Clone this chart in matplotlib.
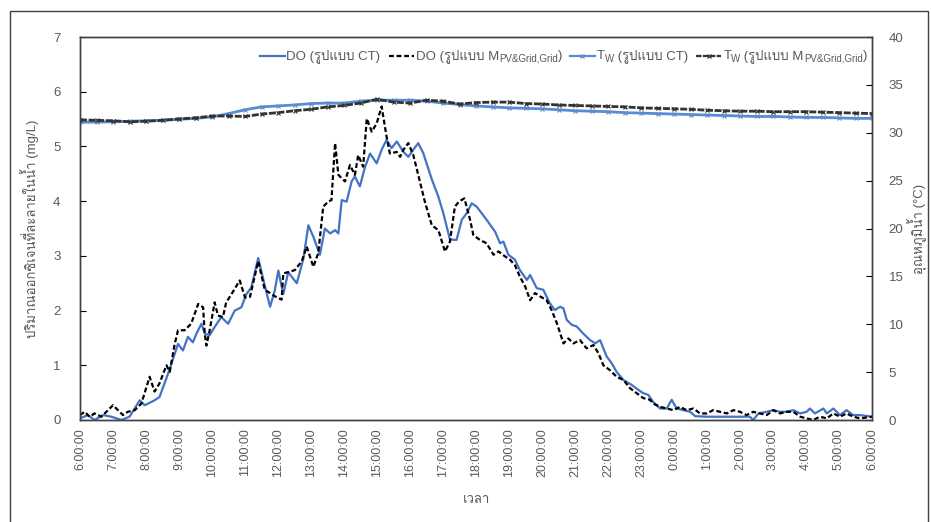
import matplotlib
matplotlib.use("Agg")
import matplotlib.pyplot as plt
from matplotlib import font_manager
from matplotlib.ft2font import FT2Font
from matplotlib.patches import Rectangle
from matplotlib.lines import Line2D

# hours after 6:00 (0 = 6:00, 24 = 6:00 next day)
do_ct_t = [0.0, 0.24, 0.44, 0.70, 0.95, 1.25, 1.5, 1.81, 1.96, 2.26, 2.41, 2.67, 2.87, 2.97,
           3.12, 3.27, 3.42, 3.53, 3.68, 3.78, 3.93, 4.08, 4.28, 4.49, 4.69, 4.89, 5.04, 5.19,
           5.40, 5.61, 5.76, 5.9, 6.01, 6.16, 6.31, 6.57, 6.77, 6.92, 7.07, 7.27, 7.42, 7.58,
           7.73, 7.83, 7.93, 8.08, 8.23, 8.33, 8.48, 8.64, 8.79, 8.99, 9.14, 9.29, 9.44, 9.60,
           9.80, 9.95, 10.10, 10.25, 10.40, 10.66, 10.86, 11.01, 11.21, 11.41, 11.57, 11.72,
           11.87, 12.02, 12.17, 12.32, 12.58, 12.73, 12.83, 12.98, 13.18, 13.33, 13.54, 13.64,
           13.84, 14.04, 14.24, 14.39, 14.55, 14.65, 14.75, 14.9, 15.05, 15.25, 15.46, 15.61,
           15.76, 15.96, 16.11, 16.26, 16.47, 16.72, 16.92, 17.07, 17.22, 17.37, 17.58, 17.78,
           17.93, 18.08, 18.28, 18.49, 18.64, 18.99, 19.5, 20.0, 20.3, 20.4, 20.56, 20.81,
           21.01, 21.21, 21.41, 21.62, 21.82, 22.02, 22.12, 22.27, 22.53, 22.63, 22.83, 23.03,
           23.23, 23.43, 23.64, 24.0]
do_ct_v = [0.03, 0.09, 0.0, 0.09, 0.06, 0.0, 0.06, 0.36, 0.27, 0.36, 0.42, 0.85, 1.21, 1.39,
           1.27, 1.52, 1.42, 1.58, 1.76, 1.58, 1.55, 1.70, 1.88, 1.76, 2.0, 2.06, 2.3, 2.42,
           2.96, 2.43, 2.07, 2.36, 2.73, 2.3, 2.7, 2.5, 2.95, 3.56, 3.35, 3.02, 3.5, 3.41,
           3.47, 3.41, 4.02, 3.99, 4.36, 4.45, 4.27, 4.63, 4.87, 4.69, 4.94, 5.12, 4.97, 5.09,
           4.9, 4.81, 4.94, 5.06, 4.88, 4.4, 4.08, 3.78, 3.3, 3.29, 3.66, 3.78,
           3.96, 3.9, 3.78, 3.66, 3.44, 3.23, 3.26, 3.02, 2.93, 2.74, 2.56, 2.65,
           2.41, 2.38, 2.13, 2.01, 2.07, 2.04, 1.83, 1.74, 1.71, 1.58, 1.46, 1.40,
           1.46, 1.16, 1.04, 0.88, 0.73, 0.64, 0.55, 0.49, 0.46, 0.33, 0.21, 0.21,
           0.37, 0.21, 0.18, 0.15, 0.07, 0.06, 0.06, 0.06, 0.06, 0.0, 0.12, 0.15,
           0.18, 0.15, 0.15, 0.18, 0.12, 0.15, 0.21, 0.12, 0.21, 0.12, 0.21, 0.09,
           0.18, 0.09, 0.09, 0.06]

do_m_t = [0.0, 0.14, 0.29, 0.44, 0.65, 0.85, 1.0, 1.15, 1.3, 1.45, 1.66, 1.86, 2.11, 2.26,
          2.41, 2.62, 2.72, 2.87, 2.97, 3.17, 3.37, 3.58, 3.73, 3.78, 3.83, 3.93, 4.08, 4.18,
          4.33, 4.43, 4.59, 4.84, 5.0, 5.15, 5.40, 5.6, 5.76, 5.91, 6.11, 6.16, 6.36, 6.51,
          6.72, 6.87, 7.07, 7.22, 7.37, 7.52, 7.62, 7.73, 7.83, 8.03, 8.18, 8.33, 8.43, 8.58,
          8.69, 8.84, 8.99, 9.14, 9.29, 9.39, 9.6, 9.7, 9.8, 9.95, 10.1, 10.25, 10.45, 10.66,
          10.86, 11.06, 11.21, 11.36, 11.5, 11.65, 11.82, 11.92, 12.12, 12.32, 12.53, 12.68,
          12.88, 13.03, 13.18, 13.33, 13.49, 13.64, 13.79, 13.94, 14.14, 14.29, 14.45, 14.65,
          14.8, 14.95, 15.15, 15.35, 15.56, 15.71, 15.86, 16.06, 16.26, 16.47, 16.67, 16.87,
          17.07, 17.27, 17.37, 17.58, 17.78, 17.98, 18.18, 18.38, 18.59, 18.79, 18.99, 19.19,
          19.39, 19.6, 19.8, 20.0, 20.2, 20.4, 20.6, 20.81, 21.01, 21.21, 21.41, 21.62,
          21.82, 22.02, 22.22, 22.42, 22.63, 22.83, 23.03, 23.23, 23.43, 23.64, 24.0]
do_m_v = [0.09, 0.15, 0.06, 0.12, 0.06, 0.18, 0.27, 0.18, 0.09, 0.15, 0.18, 0.30, 0.79, 0.52,
          0.67, 1.0, 0.88, 1.39, 1.64, 1.64, 1.76, 2.12, 2.06, 1.58, 1.36, 1.64, 2.15, 1.91,
          1.88, 2.15, 2.3, 2.55, 2.24, 2.25, 2.9, 2.38, 2.32, 2.26, 2.2, 2.68, 2.71, 2.74,
          2.9, 3.17, 2.8, 3.05, 3.9, 3.99, 4.02, 5.06, 4.48, 4.36, 4.66, 4.48, 4.84, 4.63,
          5.51, 5.27, 5.42, 5.73, 5.18, 4.87, 4.9, 4.81, 4.94, 5.06, 4.84, 4.48, 3.99, 3.56,
          3.47, 3.08, 3.26, 3.9, 4.0, 4.05, 3.66, 3.38, 3.29, 3.23, 3.02, 3.08,
          2.99, 2.93, 2.83, 2.62, 2.44, 2.19, 2.32, 2.26, 2.19, 2.01, 1.77, 1.40,
          1.49, 1.40, 1.46, 1.31, 1.37, 1.22, 1.0, 0.91, 0.79, 0.73, 0.58, 0.49,
          0.40, 0.37, 0.30, 0.24, 0.21, 0.18, 0.24, 0.18, 0.21, 0.12, 0.12, 0.18,
          0.15, 0.12, 0.18, 0.15, 0.09, 0.15, 0.12, 0.09, 0.18, 0.12, 0.15, 0.15,
          0.06, 0.03, 0.0, 0.06, 0.03, 0.12, 0.06, 0.12, 0.06, 0.03, 0.06]

# water temperature, every 30 min
tw_t = [i * 0.5 for i in range(49)]
tw_ct = [31.1, 31.1, 31.15, 31.2, 31.25, 31.3, 31.4, 31.5, 31.65, 32.0, 32.4, 32.7, 32.8,
         32.9, 33.05, 33.1, 33.1, 33.3, 33.4, 33.4, 33.4, 33.3, 33.1, 32.95, 32.8, 32.7,
         32.6, 32.55, 32.5, 32.4, 32.3, 32.25, 32.2, 32.1, 32.05, 32.0, 31.95, 31.9, 31.85,
         31.8, 31.75, 31.7, 31.7, 31.65, 31.6, 31.6, 31.55, 31.5, 31.5]
tw_m = [31.35, 31.3, 31.25, 31.15, 31.2, 31.3, 31.45, 31.55, 31.75, 31.75, 31.7, 31.95,
        32.1, 32.3, 32.45, 32.7, 32.85, 33.1, 33.5, 33.2, 33.1, 33.4, 33.3, 33.0, 33.15,
        33.2, 33.2, 33.05, 33.0, 32.9, 32.85, 32.8, 32.75, 32.7, 32.6, 32.55, 32.5, 32.45,
        32.35, 32.3, 32.25, 32.25, 32.2, 32.2, 32.2, 32.15, 32.1, 32.05, 32.0]

hour_labels = [f"{(6 + i) % 24}:00:00" for i in range(25)]

# legend texts: (text, is_subscript) pieces
leg_ct_do = [("DO (รูปแบบ CT)", False)]
leg_m_do = [("DO (รูปแบบ M", False), ("PV&Grid,Grid", True), (")", False)]
leg_ct_tw = [("T", False), ("W", True), (" (รูปแบบ CT)", False)]
leg_m_tw = [("T", False), ("W", True), (" (รูปแบบ M", False), ("PV&Grid,Grid", True), (")", False)]


def thai_font():
    for f in font_manager.fontManager.ttflist:
        try:
            if 0x0E2D in FT2Font(f.fname).get_charmap():
                return f.name
        except Exception:
            pass
    return None


fams = ["Liberation Sans"]
tf = thai_font()
if tf:
    fams.append(tf)
fams.append("DejaVu Sans")
plt.rcParams["font.family"] = fams

grey = "#595959"
blue = "#4472C4"
tblue = "#5B8BD0"
W, H = 931, 522

fig = plt.figure(figsize=(W / 100, H / 100), dpi=100)
ax = fig.add_axes([80 / W, 1 - 420 / H, 792 / W, 383 / H])
ax2 = ax.twinx()

ax.plot(do_ct_t, do_ct_v, color=blue, lw=1.6)
ax.plot(do_m_t, do_m_v, color="black", lw=1.6, dashes=(2.2, 1.2))
ax2.plot(tw_t, tw_ct, color=tblue, lw=2, marker="x", ms=3, mew=0.8)
ax2.plot(tw_t, tw_m, color="#333333", lw=2, marker="x", ms=3, mew=0.8, dashes=(2.5, 0.6))

ax.set_xlim(0, 24)
ax.set_ylim(0, 7)
ax2.set_ylim(0, 40)
ax.set_xticks(range(25))
ax.set_xticklabels(hour_labels, rotation=90, fontsize=9, color=grey)
ax.set_yticks(range(8))
ax2.set_yticks(range(0, 41, 5))
ax.tick_params(axis="x", length=0, pad=6)
ax.tick_params(axis="y", direction="in", length=4, labelsize=9.5, labelcolor=grey, pad=14)
ax2.tick_params(axis="y", direction="in", length=4, labelsize=9.5, labelcolor=grey, pad=12)
for a in (ax, ax2):
    for s in a.spines.values():
        s.set_color("#404040")
        s.set_linewidth(1)

ax.set_ylabel("ปริมาณออกซิเจนที่ละลายในน้ำ (mg/L)", fontsize=9.5, color=grey, labelpad=10)
ax2.set_ylabel("อุณหภูมิน้ำ (°C)", fontsize=9.5, color=grey, labelpad=3)
ax.set_xlabel("เวลา", fontsize=9.5, color=grey, labelpad=12)

# legend laid out by hand so the subscripts can sit below the baseline
renderer = fig.canvas.get_renderer()


def text_w(s, size):
    t = fig.text(0, 0, s, fontsize=size)
    w = t.get_window_extent(renderer).width
    t.remove()
    return w


entries = [
    (leg_ct_do, dict(color=blue, lw=1.6), None),
    (leg_m_do, dict(color="black", lw=1.6, dashes=(2.2, 1.2)), None),
    (leg_ct_tw, dict(color=tblue, lw=1.6), tblue),
    (leg_m_tw, dict(color="#333333", lw=1.6, dashes=(2.5, 0.6)), "#333333"),
]
fs, fs_sub = 9.5, 7
sample_len, gap_after_sample, gap_between = 25, 2, 8
widths = []
for pieces, _, _ in entries:
    w = sample_len + gap_after_sample
    for s, sub in pieces:
        w += text_w(s, fs_sub if sub else fs)
    widths.append(w)
x = 867 - sum(widths) - gap_between * (len(entries) - 1)
base_y = H - 59
for (pieces, lstyle, mk), w in zip(entries, widths):
    ly = base_y + 3.5
    fig.add_artist(Line2D([x / W, (x + sample_len) / W], [ly / H, ly / H],
                          transform=fig.transFigure, **lstyle))
    if mk:
        fig.add_artist(Line2D([(x + sample_len / 2) / W], [ly / H], transform=fig.transFigure,
                              marker="x", ms=3.5, mew=0.9, color=mk, lw=0))
    tx = x + sample_len + gap_after_sample
    for s, sub in pieces:
        size = fs_sub if sub else fs
        fig.text(tx / W, (base_y - (2.5 if sub else 0)) / H, s, fontsize=size, color=grey,
                 va="baseline", ha="left")
        tx += text_w(s, size)
    x += w + gap_between

fig.patches.append(Rectangle((10 / W, -0.01), 918 / W, 1 - 11 / H + 0.01,
                             transform=fig.transFigure, fill=False, ec="#404040", lw=1))

fig.savefig("out.png", dpi=100)
